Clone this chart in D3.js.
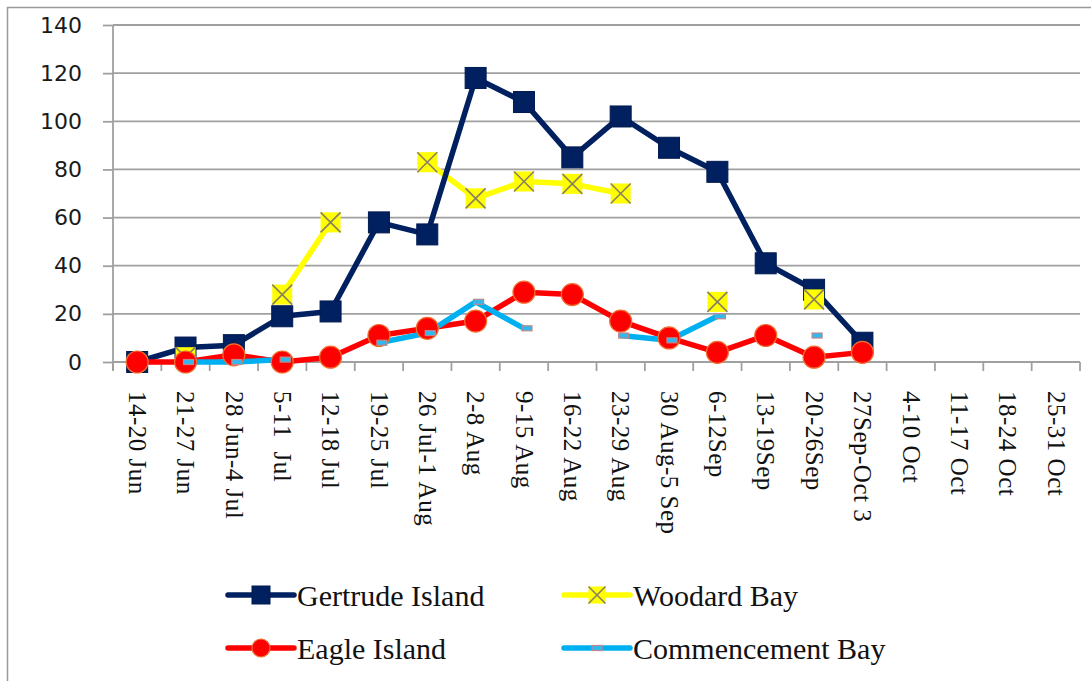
<!DOCTYPE html>
<html><head><meta charset="utf-8">
<script src="https://cdn.jsdelivr.net/npm/d3@7"></script>
<style>
html,body{margin:0;padding:0;background:#fff;}
svg{display:block;}
.serif{font-family:"Liberation Serif","Times New Roman",Times,serif;}
.sans{font-family:"DejaVu Sans",Verdana,sans-serif;}
</style></head>
<body>
<svg id="chart" width="1091" height="681"></svg>
<script>
const categories = ["14-20 Jun","21-27 Jun","28 Jun-4 Jul","5-11  Jul","12-18 Jul","19-25 Jul","26 Jul-1 Aug","2-8 Aug","9-15 Aug","16-22 Aug","23-29 Aug","30 Aug-5 Sep","6-12Sep","13-19Sep","20-26Sep","27Sep-Oct 3","4-10 Oct","11-17 Oct","18-24 Oct","25-31 Oct"];
const gertrudeIsland = [0,6,7,19,21,58,53,118,108,85,102,89,79,41,30,8,null,null,null,null];
const woodardBay = [null,2,null,28,58,null,83,68,75,74,70,null,25,null,26,null,null,null,null,null];
const eagleIsland = [0,0,3,0,2,11,14,17,29,28,17,10,4,11,2,4,null,null,null,null];
const commencementBay = [null,0,0,1,null,8,12,25,14,null,11,9,19,null,11,null,null,null,null,null];
const yTicks = [0,20,40,60,80,100,120,140];
const seriesNames = ["Gertrude Island","Woodard Bay","Eagle Island","Commencement Bay"];

(function () {
const svg = d3.select("#chart");
const pL = 113, pR = 1080, pT = 25, pB = 362;
const x = d3.scaleBand().domain(categories).range([pL, pR]);
const y = d3.scaleLinear().domain([0, 140]).range([pB, pT]);

// outer frame
svg.append("rect").attr("x", 7.5).attr("y", 7.5).attr("width", 1100).attr("height", 700)
  .attr("fill", "none").attr("stroke", "#9a9a9a").attr("stroke-width", 1.5);

// grid
svg.append("g").selectAll("line").data(yTicks.filter(d => d > 0)).join("line")
  .attr("x1", pL).attr("x2", pR).attr("y1", d => y(d)).attr("y2", d => y(d))
  .attr("stroke", "#a0a0a0").attr("stroke-width", 1.8);

// y axis
const yAxis = svg.append("g").attr("transform", `translate(${pL},0)`)
  .call(d3.axisLeft(y).tickValues(yTicks).tickSize(10).tickPadding(21));
yAxis.attr("font-family", null).attr("font-size", null);
yAxis.select(".domain").attr("stroke", "#a0a0a0").attr("stroke-width", 1.8).attr("d", `M0,${pT}V${pB + 8}`);
yAxis.selectAll(".tick line").attr("stroke", "#a0a0a0").attr("stroke-width", 1.8);
yAxis.selectAll(".tick text").attr("class", "sans").attr("font-size", 22).attr("fill", "#1a1a1a");

// x axis
const xAxis = svg.append("g").attr("transform", `translate(0,${pB})`)
  .call(d3.axisBottom(x).tickSize(0).tickPadding(0));
xAxis.attr("font-family", null).attr("font-size", null);
xAxis.select(".domain").attr("stroke", "#a0a0a0").attr("stroke-width", 1.8).attr("d", `M${pL},0H${pR}`);
xAxis.selectAll(".tick text")
  .attr("class", "serif").attr("font-size", 25).attr("fill", "#111")
  .attr("text-anchor", "start").attr("style", "white-space:pre;letter-spacing:0.5px")
  .attr("transform", "translate(0,29) rotate(90)").attr("x", 0).attr("y", 0).attr("dy", "0.33em");
const bounds = categories.map(c => x(c)).concat([pR]);
xAxis.append("g").selectAll("line").data(bounds).join("line")
  .attr("x1", d => d).attr("x2", d => d).attr("y1", 0).attr("y2", 9)
  .attr("stroke", "#a0a0a0").attr("stroke-width", 1.8);

const cx = i => x(categories[i]) + x.bandwidth() / 2;
const toPts = arr => arr.map((v, i) => ({i, v}));
const line = d3.line().defined(d => d.v != null).x(d => cx(d.i)).y(d => y(d.v));

const colors = {g: "#002060", w: "#ffff00", e: "#ff0000", c: "#00b0f0"};

// lines
[[woodardBay, colors.w], [gertrudeIsland, colors.g], [eagleIsland, colors.e], [commencementBay, colors.c]]
  .forEach(([arr, col]) => {
    svg.append("path").datum(toPts(arr)).attr("d", line).attr("fill", "none")
      .attr("stroke", col).attr("stroke-width", 5.5).attr("stroke-linejoin", "round");
  });

function squareMarker(g, px, py, s) {
  g.append("rect").attr("x", px - s / 2).attr("y", py - s / 2).attr("width", s).attr("height", s)
    .attr("fill", colors.g).attr("stroke", "#001a50").attr("stroke-width", 1);
}
function xMarker(g, px, py, s) {
  g.append("rect").attr("x", px - s / 2).attr("y", py - s / 2).attr("width", s).attr("height", s)
    .attr("fill", colors.w);
  g.append("path").attr("d", `M${px - s/2},${py - s/2}L${px + s/2},${py + s/2}M${px + s/2},${py - s/2}L${px - s/2},${py + s/2}`)
    .attr("stroke", "#8a8060").attr("stroke-width", 1.6);
}
function circleMarker(g, px, py, r) {
  g.append("circle").attr("cx", px).attr("cy", py).attr("r", r)
    .attr("fill", colors.e).attr("stroke", "#f07030").attr("stroke-width", 1.2);
}
function dashMarker(g, px, py) {
  g.append("rect").attr("x", px - 5).attr("y", py - 2.5).attr("width", 10).attr("height", 5)
    .attr("fill", "#30b8f0").attr("stroke", "#c08888").attr("stroke-width", 1.2);
}

const mg = svg.append("g");
toPts(gertrudeIsland).filter(d => d.v != null).forEach(d => squareMarker(mg, cx(d.i), y(d.v), 21));
toPts(woodardBay).filter(d => d.v != null).forEach(d => xMarker(mg, cx(d.i), y(d.v), 20));
toPts(eagleIsland).filter(d => d.v != null).forEach(d => circleMarker(mg, cx(d.i), y(d.v), 11));
toPts(commencementBay).filter(d => d.v != null).forEach(d => dashMarker(mg, cx(d.i) + 3, y(d.v)));

// legend
const legendItems = [
  {name: seriesNames[0], col: colors.g, x0: 228, yy: 595, m: (g, px, py) => squareMarker(g, px, py, 18)},
  {name: seriesNames[1], col: colors.w, x0: 564, yy: 595, m: (g, px, py) => xMarker(g, px, py, 17)},
  {name: seriesNames[2], col: colors.e, x0: 228, yy: 648, m: (g, px, py) => circleMarker(g, px, py, 9)},
  {name: seriesNames[3], col: colors.c, x0: 564, yy: 648, m: (g, px, py) => dashMarker(g, px, py)}
];
const lg = svg.append("g");
legendItems.forEach(it => {
  lg.append("line").attr("x1", it.x0).attr("x2", it.x0 + 66).attr("y1", it.yy).attr("y2", it.yy)
    .attr("stroke", it.col).attr("stroke-width", 5.5).attr("stroke-linecap", "round");
  it.m(lg, it.x0 + 33, it.yy);
  lg.append("text").attr("class", "serif").attr("x", it.x0 + 69).attr("y", it.yy).attr("dy", "0.35em")
    .attr("font-size", 30).attr("fill", "#111").text(it.name);
});
})();
</script>
</body></html>
